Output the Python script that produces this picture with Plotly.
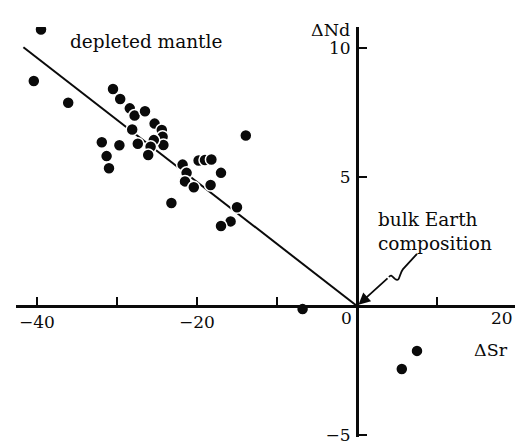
import plotly.graph_objects as go

# Data
delta_sr = [-39.5, -40.4, -36.1, -30.5, -29.6, -28.4, -27.8, -26.5, -28.1, -25.3,
            -24.4, -24.3, -24.2, -25.4, -25.8, -26.1, -27.4, -29.7, -31.9, -31.3,
            -31.0, -13.9, -21.8, -21.3, -21.5, -20.4, -19.8, -19.0, -18.2, -17.0,
            -18.3, -23.2, -15.0, -15.8, -17.0, -6.8, 5.6, 7.5]
delta_nd = [10.72, 8.72, 7.88, 8.41, 8.02, 7.66, 7.38, 7.55, 6.84, 7.07,
            6.82, 6.56, 6.24, 6.43, 6.17, 5.85, 6.29, 6.23, 6.35, 5.81,
            5.34, 6.61, 5.48, 5.16, 4.83, 4.60, 5.64, 5.66, 5.68, 5.16,
            4.69, 3.99, 3.83, 3.28, 3.10, -0.12, -2.44, -1.74]

mantle_line_x = [-41.7, 0.0]
mantle_line_y = [10.03, 0.0]

x_ticks = [-40, -30, -20, -10, 0, 10]
x_ticktext = ["\u221240", "", "\u221220", "", "", ""]
y_ticks = [-5, 0, 5, 10]
y_ticktext = ["\u22125", "", "5", "10"]

# squiggle of the "bulk Earth" pointer (data coords)
squig_x = [7.5, 5.75, 5.25, 5.375, 4.75, 4.375, 4.25, 4.0]
squig_y = [2.02, 1.43, 1.24, 0.89, 1.05, 1.16, 1.24, 1.12]

W, H = 515, 445
ML, MR, MT, MB = 16, 0, 27, 8
PX_PER_X = 8.0
PX_PER_Y = 25.8
ORIGIN_PX = (357, 306)

x0 = (ML - ORIGIN_PX[0]) / PX_PER_X
x1 = (W - MR - ORIGIN_PX[0]) / PX_PER_X
y1 = (ORIGIN_PX[1] - MT) / PX_PER_Y
y0 = (ORIGIN_PX[1] - (H - MB)) / PX_PER_Y

PW = W - ML - MR
PH = H - MT - MB


def px_to_paper(px, py):
    return (px - ML) / PW, ((H - MB) - py) / PH


INK = "#0a0a0a"
FONT = "DejaVu Serif"

fig = go.Figure()
fig.add_trace(go.Scatter(x=mantle_line_x, y=mantle_line_y, mode="lines",
                         line=dict(color=INK, width=2), hoverinfo="skip",
                         showlegend=False))
fig.add_trace(go.Scatter(x=delta_sr, y=delta_nd, mode="markers",
                         marker=dict(size=12, color=INK,
                                     line=dict(color="white", width=1.5)),
                         showlegend=False))

path = "M {},{} L {},{} C {},{} {},{} {},{} C {},{} {},{} {},{}".format(
    squig_x[0], squig_y[0], squig_x[1], squig_y[1],
    squig_x[2], squig_y[2], squig_x[3], squig_y[3], squig_x[4], squig_y[4],
    squig_x[5], squig_y[5], squig_x[6], squig_y[6], squig_x[7], squig_y[7])
fig.add_shape(type="path", path=path, xref="x", yref="y",
              line=dict(color=INK, width=1.8))

p20 = px_to_paper(502, 318)
pzero = px_to_paper(346, 318)
psr = px_to_paper(491, 350)
pnd = px_to_paper(352, 30)

TXT = 18.5

fig.update_layout(
    width=W, height=H,
    margin=dict(l=ML, r=MR, t=MT, b=MB, autoexpand=False),
    paper_bgcolor="white", plot_bgcolor="white",
    font=dict(family=FONT, size=17, color=INK),
    xaxis=dict(range=[x0, x1], anchor="free",
               position=(0 - y0) / (y1 - y0),
               tickvals=x_ticks, ticktext=x_ticktext,
               ticks="inside", ticklen=8, tickwidth=2, tickcolor=INK,
               showline=True, linewidth=3, linecolor=INK,
               showgrid=False, zeroline=False,
               tickfont=dict(family=FONT, size=17, color=INK)),
    yaxis=dict(range=[y0, y1], anchor="free",
               position=(0 - x0) / (x1 - x0),
               tickvals=y_ticks, ticktext=y_ticktext,
               ticks="inside", ticklen=8, tickwidth=2, tickcolor=INK,
               showline=True, linewidth=3, linecolor=INK,
               showgrid=False, zeroline=False, ticklabelstandoff=2,
               tickfont=dict(family=FONT, size=17, color=INK)),
    annotations=[
        dict(x=0, y=0, xref="x", yref="y", ax=squig_x[-1], ay=squig_y[-1],
             axref="x", ayref="y", text="", showarrow=True,
             arrowhead=2, arrowsize=1.3, arrowwidth=1.8, arrowcolor=INK,
             standoff=2),
        dict(x=pzero[0], y=pzero[1], xref="paper", yref="paper", text="0",
             showarrow=False, xanchor="center", yanchor="middle"),
        dict(x=p20[0], y=p20[1], xref="paper", yref="paper", text="20",
             showarrow=False, xanchor="center", yanchor="middle"),
        dict(text="\u0394Sr", x=psr[0], y=psr[1], xref="paper", yref="paper",
             xanchor="center", yanchor="middle",
             showarrow=False, font=dict(size=17.5)),
        dict(text="\u0394Nd", x=pnd[0], y=pnd[1], xref="paper", yref="paper",
             xanchor="right", yanchor="middle", showarrow=False,
             font=dict(size=17.5)),
        dict(text="depleted mantle", x=-36.1, y=10.25, xref="x", yref="y",
             xanchor="left", showarrow=False, font=dict(size=TXT)),
        dict(text="bulk Earth<br>composition", x=2.4, y=2.9, xref="x", yref="y",
             xanchor="left", align="left", showarrow=False,
             font=dict(size=TXT)),
    ],
)

fig.write_html(
    "out.html",
    config={"displayModeBar": False},
    post_script="document.body.style.margin='0';"
                "document.body.style.overflow='hidden';",
)
